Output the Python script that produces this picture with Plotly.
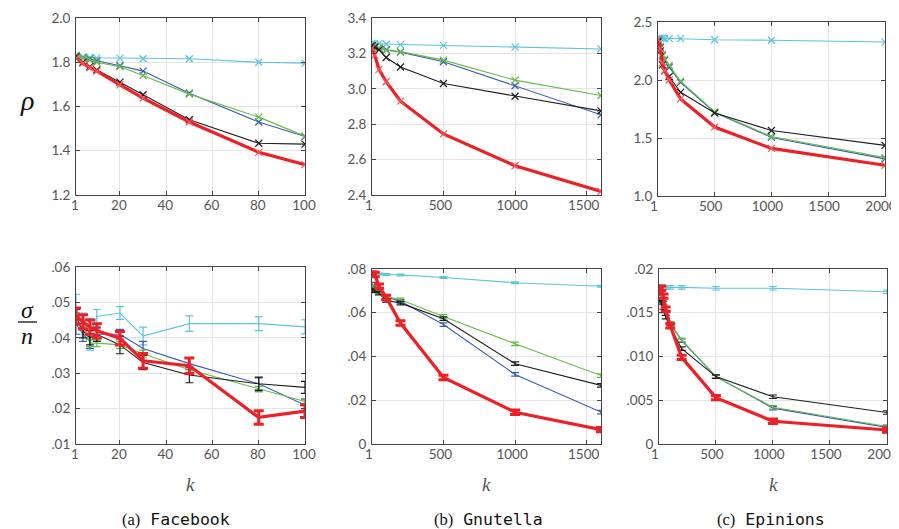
import plotly.graph_objects as go

W, H = 899, 529
OFF = 8  # page body margin offset
FW, FH = W - OFF, H - OFF

# ---------------- data ----------------
fb_k = [1, 4, 7, 10, 20, 30, 50, 80, 100]
gn_k = [1, 20, 50, 100, 200, 500, 1000, 1600]
ep_k = [1, 20, 40, 60, 100, 200, 500, 1000, 2000]

# rho (top row)
fb_rho_cyan = [1.83, 1.825, 1.822, 1.82, 1.819, 1.816, 1.816, 1.80, 1.796]
fb_rho_blue = [1.83, 1.82, 1.815, 1.807, 1.784, 1.76, 1.66, 1.53, 1.464]
fb_rho_green = [1.83, 1.82, 1.81, 1.80, 1.78, 1.74, 1.656, 1.552, 1.466]
fb_rho_black = [1.825, 1.80, 1.78, 1.765, 1.71, 1.653, 1.54, 1.434, 1.43]
fb_rho_red = [1.82, 1.795, 1.775, 1.76, 1.698, 1.638, 1.53, 1.393, 1.337]

gn_rho_cyan = [3.255, 3.255, 3.255, 3.253, 3.25, 3.245, 3.235, 3.225]
gn_rho_blue = [3.24, 3.235, 3.23, 3.221, 3.207, 3.153, 3.017, 2.853]
gn_rho_green = [3.24, 3.235, 3.23, 3.217, 3.21, 3.162, 3.049, 2.962]
gn_rho_black = [3.245, 3.235, 3.22, 3.177, 3.123, 3.03, 2.958, 2.875]
gn_rho_red = [3.23, 3.19, 3.11, 3.04, 2.93, 2.745, 2.565, 2.42]

ep_rho_cyan = [2.36, 2.36, 2.36, 2.358, 2.356, 2.356, 2.347, 2.343, 2.327]
ep_rho_blue = [2.34, 2.28, 2.21, 2.17, 2.11, 1.98, 1.72, 1.505, 1.32]
ep_rho_green = [2.34, 2.29, 2.22, 2.18, 2.125, 1.99, 1.724, 1.513, 1.331]
ep_rho_black = [2.33, 2.25, 2.13, 2.08, 2.03, 1.894, 1.715, 1.565, 1.436]
ep_rho_red = [2.35, 2.27, 2.15, 2.08, 2.0, 1.837, 1.594, 1.41, 1.265]

# sigma/n (bottom row) with error bars
fb_sig_cyan = [0.048, 0.044, 0.041, 0.046, 0.047, 0.0405, 0.044, 0.044, 0.0431]
fb_sig_cyan_err = [0.0043, 0.003, 0.0045, 0.002, 0.0018, 0.0025, 0.0022, 0.002, 0.002]
fb_sig_blue = [0.044, 0.041, 0.039, 0.041, 0.041, 0.037, 0.0327, 0.027, 0.021]
fb_sig_blue_err = [0.003, 0.002, 0.002, 0.0015, 0.0014, 0.002, 0.0017, 0.0017, 0.0015]
fb_sig_green = [0.047, 0.044, 0.0385, 0.0385, 0.038, 0.0355, 0.031, 0.0255, 0.022]
fb_sig_green_err = [0.001, 0.001, 0.001, 0.001, 0.001, 0.001, 0.001, 0.0008, 0.0008]
fb_sig_black = [0.046, 0.042, 0.040, 0.041, 0.038, 0.033, 0.0295, 0.027, 0.026]
fb_sig_black_err = [0.002, 0.002, 0.002, 0.002, 0.0025, 0.002, 0.0022, 0.0019, 0.0017]
fb_sig_red = [0.0461, 0.0445, 0.043, 0.042, 0.0399, 0.0335, 0.0321, 0.0175, 0.0193]
fb_sig_red_err = [0.0023, 0.002, 0.002, 0.002, 0.0019, 0.0021, 0.0022, 0.0019, 0.0018]

gn_sig_cyan = [0.0782, 0.0779, 0.0777, 0.0775, 0.0773, 0.0761, 0.0737, 0.0721]
gn_sig_blue = [0.0731, 0.0715, 0.0703, 0.0672, 0.0652, 0.0546, 0.0318, 0.0146]
gn_sig_green = [0.0718, 0.0708, 0.0695, 0.0675, 0.0659, 0.0583, 0.0458, 0.0313]
gn_sig_black = [0.0703, 0.0700, 0.0690, 0.0657, 0.0644, 0.0573, 0.0367, 0.0268]
gn_sig_red = [0.0778, 0.0775, 0.0722, 0.067, 0.0553, 0.0304, 0.0145, 0.0066]
gn_err_thin = [0.0008] * 8
gn_err_red = [0.001] * 8

ep_sig_cyan = [0.0180, 0.0180, 0.0179, 0.0179, 0.0179, 0.0179, 0.0178, 0.0178, 0.0174]
ep_sig_blue = [0.0172, 0.0169, 0.0161, 0.0154, 0.0137, 0.0118, 0.0077, 0.0041, 0.0019]
ep_sig_green = [0.0173, 0.0170, 0.0162, 0.0155, 0.0138, 0.0119, 0.0077, 0.0042, 0.0020]
ep_sig_black = [0.0164, 0.0162, 0.0152, 0.0145, 0.0134, 0.0109, 0.0077, 0.0054, 0.0036]
ep_sig_red = [0.0177, 0.0178, 0.0169, 0.0154, 0.0135, 0.0099, 0.0053, 0.0026, 0.0016]
ep_err_thin = [0.0002] * 9
ep_err_red = [0.00025] * 9

# ticks
fb_xticks = [1, 20, 40, 60, 80, 100]
gn_xticks = [1, 500, 1000, 1500]
ep_xticks = [1, 500, 1000, 1500, 2000]
fb_rho_ticks = [1.2, 1.4, 1.6, 1.8, 2.0]
fb_rho_labels = ["1.2", "1.4", "1.6", "1.8", "2.0"]
gn_rho_ticks = [2.4, 2.6, 2.8, 3.0, 3.2, 3.4]
gn_rho_labels = ["2.4", "2.6", "2.8", "3.0", "3.2", "3.4"]
ep_rho_ticks = [1.0, 1.5, 2.0, 2.5]
ep_rho_labels = ["1.0", "1.5", "2.0", "2.5"]
fb_sig_ticks = [0.01, 0.02, 0.03, 0.04, 0.05, 0.06]
fb_sig_labels = [".01", ".02", ".03", ".04", ".05", ".06"]
gn_sig_ticks = [0, 0.02, 0.04, 0.06, 0.08]
gn_sig_labels = ["0", ".02", ".04", ".06", ".08"]
ep_sig_ticks = [0, 0.005, 0.010, 0.015, 0.02]
ep_sig_labels = ["0", ".005", ".010", ".015", ".02"]

captions = [("(a)", "Facebook"), ("(b)", "Gnutella"), ("(c)", "Epinions")]

# ---------------- style ----------------
C_CYAN = "#5cc4dc"
C_BLUE = "#3a5cae"
C_GREEN = "#66bb46"
C_BLACK = "#1e1e1e"
C_RED = "#ee1f26"
TICKFONT = dict(family="Lato, Open Sans, sans-serif", size=13.5, color="#555555")


def px(x):
    return (x - OFF) / FW


def py(y):
    return 1 - (y - OFF) / FH


fig = go.Figure()

# panel geometry in page pixels: (x0, x1, ytop, ybottom)
panels = {
    1: (76, 305, 18, 195), 2: (372, 601, 18, 195), 3: (658, 885, 22, 196),
    4: (76, 305, 267, 444), 5: (372, 601, 269, 444), 6: (659, 887, 269, 444),
}
xshift = {1: -1, 2: -3, 3: -4, 4: -1, 5: -3, 6: -4}


def ax_names(i):
    return ("x" if i == 1 else f"x{i}"), ("y" if i == 1 else f"y{i}")


def add_rho(i, k, series):
    xa, ya = ax_names(i)
    for vals, col in series:
        red = col == C_RED
        fig.add_trace(go.Scatter(
            x=k, y=vals, xaxis=xa, yaxis=ya, mode="lines+markers",
            line=dict(color=col, width=3.2 if red else 1.1),
            marker=dict(symbol="x-thin", size=7, color=col,
                        line=dict(color="#f25a5f" if red else col, width=1.2)),
            showlegend=False))


def add_sig(i, k, series):
    xa, ya = ax_names(i)
    for vals, err, col in series:
        red = col == C_RED
        fig.add_trace(go.Scatter(
            x=k, y=vals, xaxis=xa, yaxis=ya, mode="lines",
            line=dict(color=col, width=3.2 if red else 1.1),
            error_y=dict(type="data", array=err, visible=True, color=col,
                         thickness=3 if red else 1.2, width=5 if red else 4),
            showlegend=False))


add_rho(1, fb_k, [(fb_rho_cyan, C_CYAN), (fb_rho_blue, C_BLUE), (fb_rho_green, C_GREEN),
                  (fb_rho_black, C_BLACK), (fb_rho_red, C_RED)])
add_rho(2, gn_k, [(gn_rho_cyan, C_CYAN), (gn_rho_blue, C_BLUE), (gn_rho_green, C_GREEN),
                  (gn_rho_black, C_BLACK), (gn_rho_red, C_RED)])
add_rho(3, ep_k, [(ep_rho_cyan, C_CYAN), (ep_rho_blue, C_BLUE), (ep_rho_green, C_GREEN),
                  (ep_rho_black, C_BLACK), (ep_rho_red, C_RED)])
add_sig(4, fb_k, [(fb_sig_cyan, fb_sig_cyan_err, C_CYAN), (fb_sig_blue, fb_sig_blue_err, C_BLUE),
                  (fb_sig_green, fb_sig_green_err, C_GREEN), (fb_sig_black, fb_sig_black_err, C_BLACK),
                  (fb_sig_red, fb_sig_red_err, C_RED)])
add_sig(5, gn_k, [(gn_sig_cyan, [e / 2 for e in gn_err_thin], C_CYAN), (gn_sig_blue, gn_err_thin, C_BLUE),
                  (gn_sig_green, gn_err_thin, C_GREEN), (gn_sig_black, gn_err_thin, C_BLACK),
                  (gn_sig_red, gn_err_red, C_RED)])
add_sig(6, ep_k, [(ep_sig_cyan, ep_err_thin, C_CYAN), (ep_sig_blue, ep_err_thin, C_BLUE),
                  (ep_sig_green, ep_err_thin, C_GREEN), (ep_sig_black, ep_err_thin, C_BLACK),
                  (ep_sig_red, ep_err_red, C_RED)])

xcfg = {1: (fb_xticks, [1, 100]), 2: (gn_xticks, [1, 1600]), 3: (ep_xticks, [1, 2000]),
        4: (fb_xticks, [1, 100]), 5: (gn_xticks, [1, 1600]), 6: (ep_xticks, [1, 2000])}
ycfg = {1: (fb_rho_ticks, fb_rho_labels, [1.2, 2.0]), 2: (gn_rho_ticks, gn_rho_labels, [2.4, 3.4]),
        3: (ep_rho_ticks, ep_rho_labels, [1.0, 2.5]), 4: (fb_sig_ticks, fb_sig_labels, [0.01, 0.06]),
        5: (gn_sig_ticks, gn_sig_labels, [0, 0.08]), 6: (ep_sig_ticks, ep_sig_labels, [0, 0.02])}

common = dict(showline=True, linecolor="#444444", linewidth=1, mirror="ticks",
              ticks="inside", ticklen=4, tickcolor="#444444", showgrid=True,
              gridcolor="#e4e4e4", gridwidth=1, zeroline=False, tickfont=TICKFONT,
              automargin=False, ticklabeloverflow="allow")

layout = {}
for i, (x0, x1, yt, yb) in panels.items():
    xa, ya = ax_names(i)
    xn = "xaxis" if i == 1 else f"xaxis{i}"
    yn = "yaxis" if i == 1 else f"yaxis{i}"
    xt, xr = xcfg[i]
    yt_vals, yt_labels, yr = ycfg[i]
    layout[xn] = dict(domain=[px(x0), px(x1)], anchor=ya, range=xr, tickvals=xt,
                      ticktext=[str(v) for v in xt], ticklabelstandoff=-2,
                      ticklabelshift=xshift[i], **common)
    layout[yn] = dict(domain=[py(yb), py(yt)], anchor=xa, range=yr,
                      tickvals=yt_vals, ticktext=yt_labels, ticklabelstandoff=2, **common)

fig.update_layout(width=FW, height=FH, margin=dict(l=0, r=0, t=0, b=0, autoexpand=False),
                  plot_bgcolor="white", paper_bgcolor="white", **layout)

serif = "Liberation Serif, DejaVu Serif, serif"
ann = []


def label(x, y, text, font):
    ann.append(dict(x=px(x), y=py(y), xref="paper", yref="paper", text=text,
                    xanchor="center", yanchor="middle", showarrow=False, font=font))


# y-axis labels
label(27, 100, "<i>ρ</i>", dict(family=serif, size=28, color="#111"))
label(27, 310, "<i>σ</i>", dict(family=serif, size=24, color="#111"))
label(27, 336, "<i>n</i>", dict(family=serif, size=24, color="#111"))
# k labels
for (x0, x1, _, _) in (panels[4], panels[5], panels[6]):
    label((x0 + x1) / 2, 484, "<i>k</i>", dict(family=serif, size=19, color="#555"))
# captions
cap_x = [176, 488, 771]
for (lab, name), cx in zip(captions, cap_x):
    label(cx, 519, f"<span style='font-family:Liberation Serif'>{lab}</span> {name}",
          dict(family="DejaVu Sans Mono, Liberation Mono, monospace", size=16.5, color="#111"))
fig.update_layout(annotations=ann)
fig.add_shape(type="line", xref="paper", yref="paper", x0=px(18), x1=px(37),
              y0=py(322), y1=py(322), line=dict(color="#111", width=1.3))

fig.write_html("out.html")
